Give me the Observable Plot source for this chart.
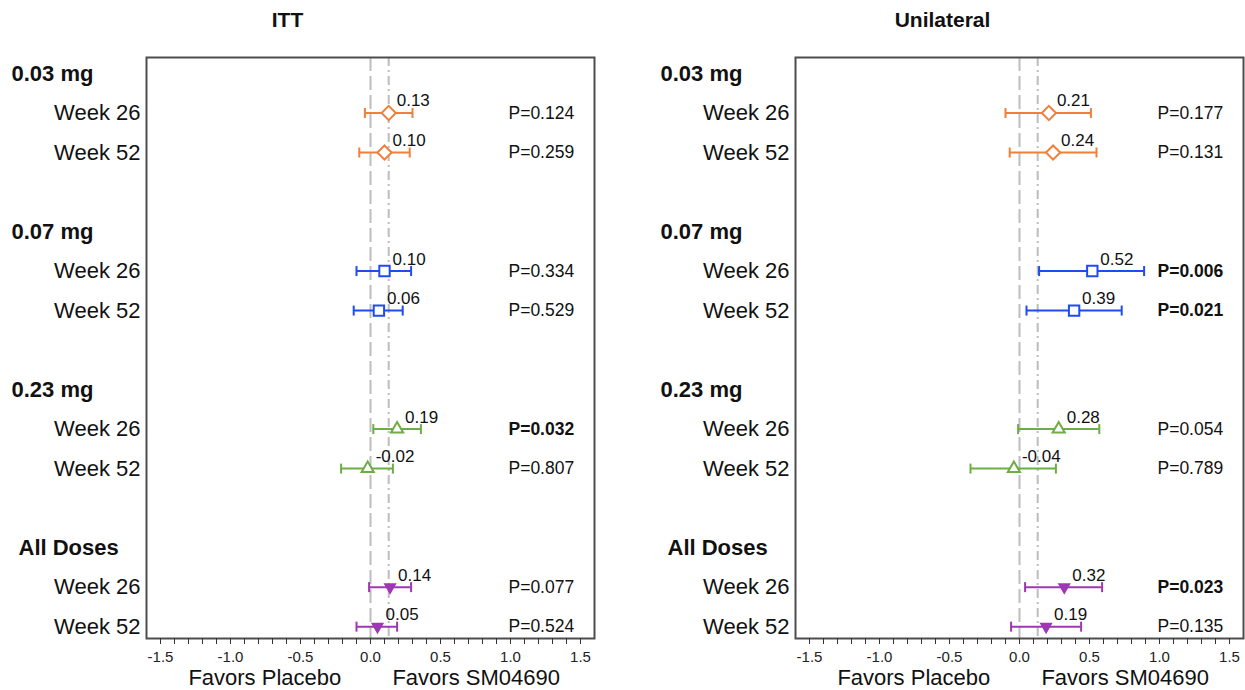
<!DOCTYPE html>
<html>
<head>
<meta charset="utf-8">
<script src="https://cdn.jsdelivr.net/npm/d3@7"></script>
<script src="https://cdn.jsdelivr.net/npm/@observablehq/plot@0.6"></script>
<style>
  body { margin: 0; background: #fff; }
  #wrap { display: flex; flex-direction: row; width: 1245px; height: 690px; }
</style>
</head>
<body>
<div id="wrap"></div>
<script>
// ---- Data ----
const groups = ["0.03 mg", "0.07 mg", "0.23 mg", "All Doses"];
const weeks = ["Week 26", "Week 52"];
const panelTitles = ["ITT", "Unilateral"];
const favorLabels = ["Favors Placebo", "Favors SM04690"];
const xTicks = d3.range(-15, 16).map(v => v / 10);
const refLine = 0.13;

// ITT (order: 0.03 W26, 0.03 W52, 0.07 W26, 0.07 W52, 0.23 W26, 0.23 W52, All W26, All W52)
const ittEst  = [0.13, 0.10, 0.10, 0.06, 0.19, -0.02, 0.14, 0.05];
const ittLow  = [-0.04, -0.08, -0.10, -0.12, 0.02, -0.21, -0.01, -0.10];
const ittHigh = [0.30, 0.28, 0.29, 0.23, 0.36, 0.16, 0.29, 0.19];
const ittP    = [0.124, 0.259, 0.334, 0.529, 0.032, 0.807, 0.077, 0.524];

// Unilateral
const uniEst  = [0.21, 0.24, 0.52, 0.39, 0.28, -0.04, 0.32, 0.19];
const uniLow  = [-0.10, -0.07, 0.14, 0.05, -0.01, -0.35, 0.04, -0.06];
const uniHigh = [0.51, 0.55, 0.89, 0.73, 0.57, 0.26, 0.59, 0.44];
const uniP    = [0.177, 0.131, 0.006, 0.021, 0.054, 0.789, 0.023, 0.135];

// ---- Styles ----
const FONT = "'Liberation Sans', Arial, Helvetica, sans-serif";
const groupStyle = {
  "0.03 mg":   {color: "#F07F3A", symbol: "diamond2", r: 6.4, fill: "white", rotate: 0},
  "0.07 mg":   {color: "#1F4BF2", symbol: "square2",  r: 6.6, fill: "white", rotate: 0},
  "0.23 mg":   {color: "#6DAD45", symbol: "triangle2", r: 5.8, fill: "white", rotate: 0},
  "All Doses": {color: "#9E38B2", symbol: "triangle", r: 3.6, fill: "#9E38B2", rotate: 180}
};
const capSymbol = {
  draw(ctx, size) {
    const h = Math.sqrt(size / Math.PI);
    ctx.moveTo(0, -h);
    ctx.lineTo(0, h);
  }
};

function buildRows(est, low, high, p) {
  return est.map((e, i) => ({
    group: groups[Math.floor(i / 2)],
    week: weeks[i % 2],
    est: e, low: low[i], high: high[i], p: p[i],
    row: Math.floor(i / 2) * 4 + 1 + (i % 2),
    sig: p[i] < 0.05
  }));
}

function panel(title, rows, layout) {
  const headers = groups.map((g, gi) => ({label: g, row: gi * 4}));
  const marks = [
    Plot.ruleX([0], {stroke: "#bdbdbd", strokeWidth: 2, strokeDasharray: "14,5"}),
    Plot.ruleX([refLine], {stroke: "#bdbdbd", strokeWidth: 2, strokeDasharray: "9,4,2,4"}),
    Plot.frame({stroke: "#4d4d4d", strokeWidth: 2}),
    Plot.axisX({
      ticks: xTicks, tickSize: 6, tickPadding: 7, fontSize: 15, stroke: "#333", fill: "#222",
      tickFormat: v => (Math.round(v * 10) % 5 === 0 ? v.toFixed(1) : "")
    })
  ];
  for (const g of groups) {
    const st = groupStyle[g];
    const sub = rows.filter(d => d.group === g);
    marks.push(
      Plot.ruleY(sub, {y: "row", x1: "low", x2: "high", stroke: st.color, strokeWidth: 2}),
      Plot.dot(sub, {x: "low", y: "row", symbol: capSymbol, r: 5, stroke: st.color, strokeWidth: 2, fill: "none"}),
      Plot.dot(sub, {x: "high", y: "row", symbol: capSymbol, r: 5, stroke: st.color, strokeWidth: 2, fill: "none"}),
      Plot.dot(sub, {x: "est", y: "row", symbol: st.symbol, r: st.r, stroke: st.color, strokeWidth: 2,
                     fill: st.fill, rotate: st.rotate})
    );
  }
  marks.push(
    Plot.text(rows, {x: "est", y: "row", text: d => d.est.toFixed(2), dx: 8, dy: -12,
                     textAnchor: "start", fontSize: 17, fill: "#111"}),
    Plot.text(rows.filter(d => !d.sig), {x: () => 1.0, y: "row", text: d => "P=" + d.p.toFixed(3),
                     dx: -2, textAnchor: "start", fontSize: 17.5, fill: "#111"}),
    Plot.text(rows.filter(d => d.sig), {x: () => 1.0, y: "row", text: d => "P=" + d.p.toFixed(3),
                     dx: -2, textAnchor: "start", fontSize: 17.5, fontWeight: "bold", fill: "#111"}),
    Plot.text(rows, {y: "row", text: "week", frameAnchor: "left", dx: -6, textAnchor: "end",
                     fontSize: 22, fill: "#111"}),
    Plot.text(headers.filter(d => d.label !== "All Doses"), {y: "row", text: "label", frameAnchor: "left",
                     dx: -135, textAnchor: "start", fontSize: 22, fontWeight: "bold", fill: "#111"}),
    Plot.text(headers.filter(d => d.label === "All Doses"), {y: "row", text: "label", frameAnchor: "left",
                     dx: -128, textAnchor: "start", fontSize: 22, fontWeight: "bold", fill: "#111"}),
    Plot.text(favorLabels, {x: (d, i) => (i === 0 ? -0.755 : 0.755), text: d => d, frameAnchor: "bottom",
                     lineAnchor: "middle", dy: 39, fontSize: 22, fill: "#111"}),
    Plot.text([title], {text: d => d, frameAnchor: "top", lineAnchor: "middle", dx: layout.titleDx, dy: -37,
                     fontSize: 21, fontWeight: "bold", fill: "#111"})
  );
  return Plot.plot({
    width: layout.width, height: 690,
    marginLeft: layout.marginLeft, marginRight: layout.marginRight,
    marginTop: 57, marginBottom: 52,
    style: {fontFamily: FONT, background: "white", color: "#111", overflow: "visible"},
    x: {domain: [-1.6, 1.6], axis: null},
    y: {domain: [-0.405, 14.3], reverse: true, axis: null},
    marks
  });
}

const wrap = document.getElementById("wrap");
wrap.appendChild(panel(panelTitles[0], buildRows(ittEst, ittLow, ittHigh, ittP),
  {width: 622, marginLeft: 146, marginRight: 28, titleDx: -83}));
wrap.appendChild(panel(panelTitles[1], buildRows(uniEst, uniLow, uniHigh, uniP),
  {width: 623, marginLeft: 173, marginRight: 2, titleDx: -77}));
</script>
</body>
</html>
